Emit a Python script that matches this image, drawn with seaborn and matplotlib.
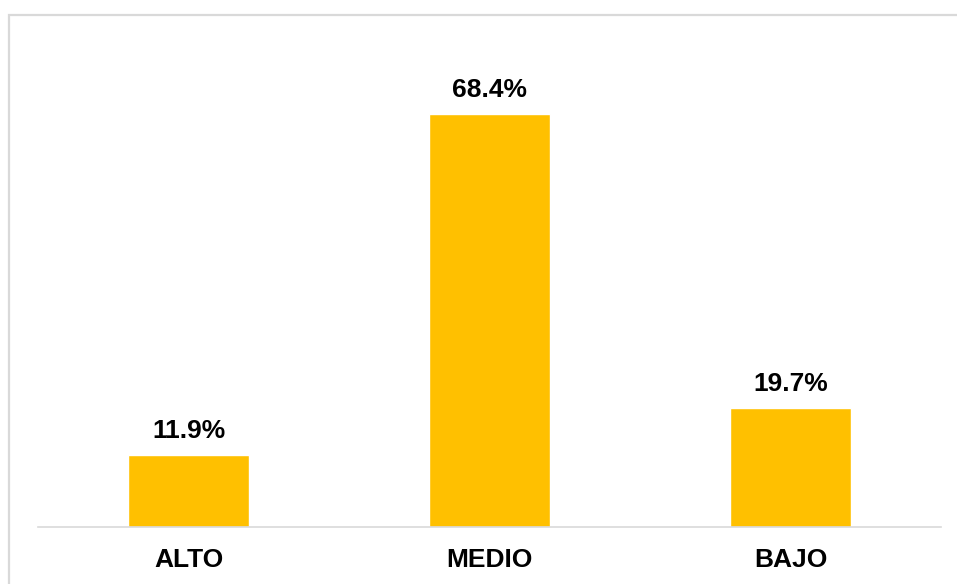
import matplotlib
matplotlib.use("Agg")
import matplotlib.pyplot as plt
import matplotlib.patches as mpatches
import seaborn as sns
import pandas as pd

categories = ["ALTO", "MEDIO", "BAJO"]
values = [11.9, 68.4, 19.7]
labels = ["11.9%", "68.4%", "19.7%"]

sns.set_style("white")
plt.rcParams['font.family'] = ['Liberation Sans', 'DejaVu Sans']

W, H = 957, 584
fig = plt.figure(figsize=(W / 100, H / 100), dpi=100)
ax = fig.add_axes([38 / W, (H - 527) / H, (941 - 38) / W, (527 - 44) / H])

df = pd.DataFrame({"cat": categories, "val": values})
sns.barplot(data=df, x="cat", y="val", color="#FFC000", saturation=1,
            width=0.4, ax=ax)

ax.set_xlim(-0.5, 2.5)
ax.set_ylim(0, 80)
ax.set_xlabel("")
ax.set_ylabel("")
ax.set_yticks([])
for s in ["top", "right", "left"]:
    ax.spines[s].set_visible(False)
ax.spines["bottom"].set_color("#d9d9d9")
ax.spines["bottom"].set_linewidth(1.2)
ax.tick_params(axis="x", length=0, pad=15)
for t in ax.get_xticklabels():
    t.set_fontsize(19)
    t.set_fontweight("bold")
    t.set_color("#000000")

for i, (v, lab) in enumerate(zip(values, labels)):
    ax.annotate(lab, (i, v), xytext=(0, 17), textcoords="offset pixels",
                ha="center", va="baseline", fontsize=19, fontweight="bold",
                color="#000000")

# outer chart border (top and left visible)
rect = mpatches.Rectangle((8.5 / W, -0.05), 1.2, (H - 14.5) / H + 0.05,
                          transform=fig.transFigure, fill=False,
                          edgecolor="#d9d9d9", linewidth=1.6, clip_on=False)
fig.patches.append(rect)

fig.savefig("out.png", dpi=100)
